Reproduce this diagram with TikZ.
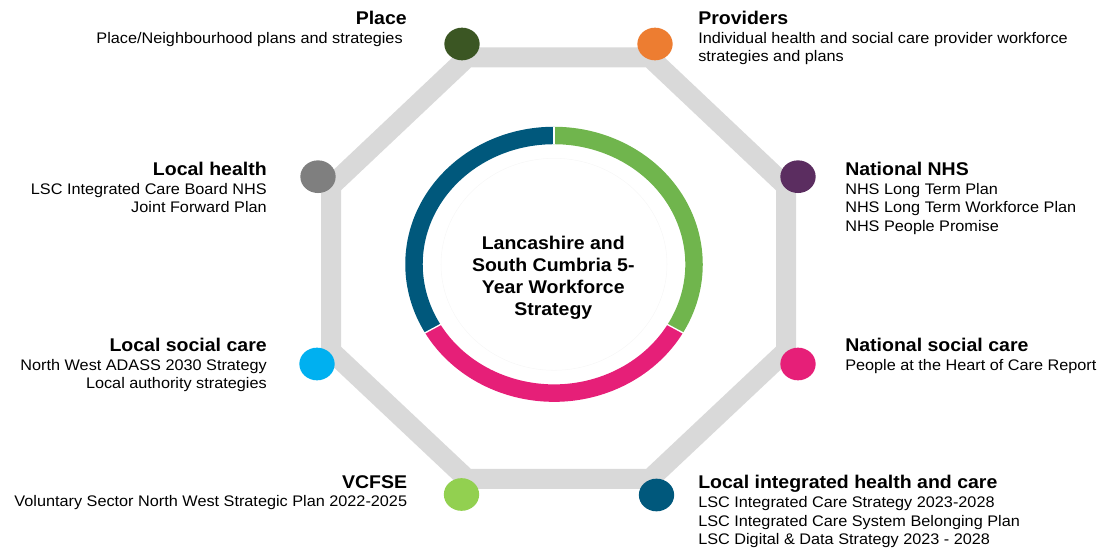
\documentclass[tikz,border=0pt]{standalone}
\usepackage{fontspec}
\setmainfont{Liberation Sans}[FakeStretch=1.06]
\usetikzlibrary{shapes.geometric,calc}

\definecolor{bandgray}{HTML}{D9D9D9}
\definecolor{ringblue}{RGB}{0,88,124}
\definecolor{ringgreen}{RGB}{112,181,77}
\definecolor{ringpink}{RGB}{230,31,120}
\definecolor{placegreen}{RGB}{59,86,35}
\definecolor{provorange}{HTML}{ED7D31}
\definecolor{healthgray}{HTML}{7F7F7F}
\definecolor{nhspurple}{RGB}{91,45,96}
\definecolor{socialblue}{HTML}{00B0F0}
\definecolor{vcfsegreen}{HTML}{92D050}

\newcommand\blocktitle[1]{{\fontsize{13.8}{13.9}\selectfont\bfseries #1}}

\begin{document}
\begin{tikzpicture}[x=0.75pt,y=0.75pt,
  band/.style={draw=bandgray, line width=15pt, line join=miter},
  ringseg/.style={line width=13.1pt, line cap=butt},
  dot/.style={ellipse, minimum width=26.5pt, minimum height=24.5pt, inner sep=0pt, draw=none},
  lbl/.style={inner sep=0pt, font=\fontsize{11.5}{13.9}\selectfont},
  core/.style={inner sep=0pt, font=\fontsize{13.8}{16.5}\selectfont\bfseries}]
\useasboundingbox (0,0) rectangle (1104,549);

% octagonal track
\draw[band] (467,491.5) -- (650,491.5) -- (786,363) -- (786,198)
  -- (650,70) -- (467,70) -- (331,198) -- (331,363) -- cycle;

% central ring in three segments
\coordinate (ring) at (554,284.7);
\draw[black!3, line width=0.4pt] (ring) ellipse [x radius=113, y radius=106];
\draw[ringseg, ringblue]  ($(ring)+(90:140 and 128.8)$)  arc[start angle=90,  end angle=210, x radius=140, y radius=128.8];
\draw[ringseg, ringpink]  ($(ring)+(210:140 and 128.8)$) arc[start angle=210, end angle=330, x radius=140, y radius=128.8];
\draw[ringseg, ringgreen] ($(ring)+(330:140 and 128.8)$) arc[start angle=330, end angle=450, x radius=140, y radius=128.8];
\foreach \a in {90,210,330}
  \draw[white, line width=1pt] ($(ring)+(\a:130.5 and 120)$) -- ($(ring)+(\a:149.5 and 137.6)$);

\node[core, anchor=base] (title) at (553.3,299.7)
  {\begin{tabular}[t]{@{}c@{}}Lancashire and\\South Cumbria 5-\\Year Workforce\\Strategy\end{tabular}};

% markers
\node[dot, fill=placegreen] (placeDot) at (462,505) {};
\node[dot, fill=provorange] (provDot) at (655,505) {};
\node[dot, fill=healthgray] (healthDot) at (318,372.3) {};
\node[dot, fill=nhspurple] (nhsDot) at (798,372.3) {};
\node[dot, fill=socialblue] (socialDot) at (317,185) {};
\node[dot, fill=ringpink] (natsocDot) at (798,185) {};
\node[dot, fill=vcfsegreen] (vcfseDot) at (461.5,54.5) {};
\node[dot, fill=ringblue] (integDot) at (656.5,54) {};

% labels
\node[lbl, anchor=base east] (placeTxt) at (407,524.5)
  {\begin{tabular}[t]{@{}r@{}}\blocktitle{Place}\\Place/Neighbourhood plans and strategies\hspace*{3pt}\end{tabular}};
\node[lbl, anchor=base west] (provTxt) at (698,524.5)
  {\begin{tabular}[t]{@{}l@{}}\blocktitle{Providers}\\Individual health and social care provider workforce\\strategies and plans\end{tabular}};
\node[lbl, anchor=base east] (healthTxt) at (267,373.3)
  {\begin{tabular}[t]{@{}r@{}}\blocktitle{Local health}\\LSC Integrated Care Board NHS\\Joint Forward Plan\end{tabular}};
\node[lbl, anchor=base west] (nhsTxt) at (845,373.3)
  {\begin{tabular}[t]{@{}l@{}}\blocktitle{National NHS}\\NHS Long Term Plan\\NHS Long Term Workforce Plan\\NHS People Promise\end{tabular}};
\node[lbl, anchor=base east] (socialTxt) at (267,197.3)
  {\begin{tabular}[t]{@{}r@{}}\blocktitle{Local social care}\\North West ADASS 2030 Strategy\\Local authority strategies\end{tabular}};
\node[lbl, anchor=base west] (natsocTxt) at (845,197.3)
  {\begin{tabular}[t]{@{}l@{}}\blocktitle{National social care}\\People at the Heart of Care Report\end{tabular}};
\node[lbl, anchor=base east] (vcfseTxt) at (407.4,60.7)
  {\begin{tabular}[t]{@{}r@{}}\blocktitle{VCFSE}\\Voluntary Sector North West Strategic Plan 2022-2025\end{tabular}};
\node[lbl, anchor=base west] (integTxt) at (698,60)
  {\begin{tabular}[t]{@{}l@{}}\blocktitle{Local integrated health and care}\\LSC Integrated Care Strategy 2023-2028\\LSC Integrated Care System Belonging Plan\\LSC Digital \& Data Strategy 2023 - 2028\end{tabular}};
\end{tikzpicture}
\end{document}
